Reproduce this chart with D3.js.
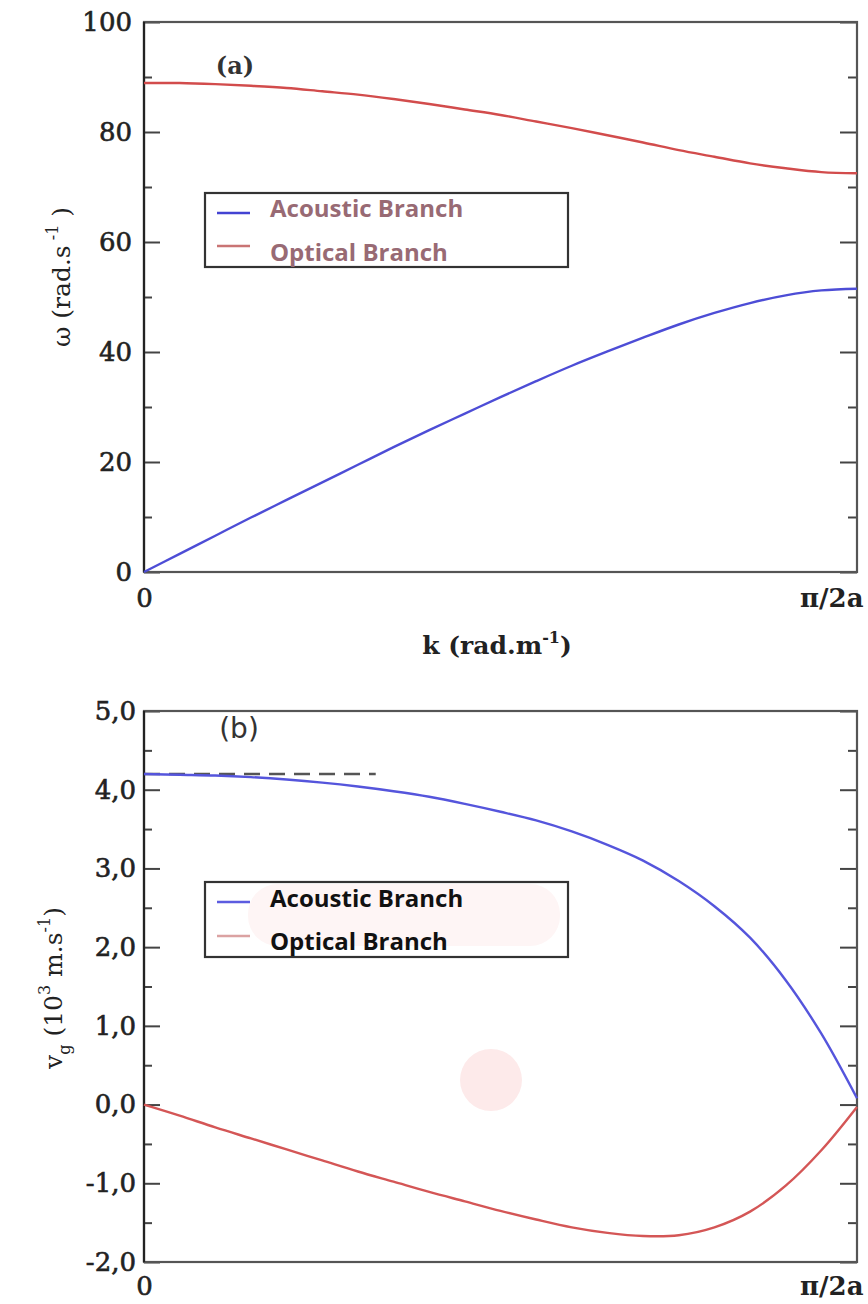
<!DOCTYPE html>
<html>
<head>
<meta charset="utf-8">
<script src="https://cdn.jsdelivr.net/npm/d3@7"></script>
<style>
  body { margin: 0; background: #fff; }
  svg { display: block; }
</style>
</head>
<body>
<svg id="chart" width="868" height="1304"></svg>
<script>
// Wavevector k, as a fraction of the zone edge k = π/2a
const kFrac = [0, 0.05, 0.10, 0.15, 0.20, 0.25, 0.30, 0.35, 0.40, 0.45, 0.50,
               0.55, 0.60, 0.65, 0.70, 0.75, 0.80, 0.85, 0.90, 0.95, 1.00];

// (a) dispersion relation ω(k), rad.s^-1
const omegaAcoustic = [0, 3.3, 6.6, 9.9, 13.1, 16.3, 19.5, 22.7, 25.8, 28.8, 31.8,
                       34.7, 37.5, 40.1, 42.6, 45.0, 47.1, 48.9, 50.3, 51.2, 51.5];
const omegaOptical  = [88.9, 88.9, 88.7, 88.4, 88.0, 87.4, 86.8, 86.0, 85.1, 84.1, 83.1,
                       81.9, 80.7, 79.4, 78.1, 76.7, 75.5, 74.3, 73.4, 72.7, 72.5];

// (b) group velocity v_g(k), 10^3 m.s^-1
const vgAcoustic = [4.20, 4.19, 4.18, 4.16, 4.13, 4.09, 4.04, 3.98, 3.91, 3.82, 3.72,
                    3.61, 3.47, 3.30, 3.10, 2.84, 2.52, 2.12, 1.58, 0.90, 0.08];
const vgOptical  = [0, -0.14, -0.29, -0.43, -0.57, -0.71, -0.85, -0.98, -1.11, -1.23, -1.35,
                    -1.46, -1.56, -1.63, -1.67, -1.66, -1.56, -1.36, -1.03, -0.58, -0.03];

// long-wavelength sound velocity marker (dashed line)
const vgSound = 4.2;
const vgSoundSpan = [0, 0.325];

// tick values and labels
const kTickValues = [0, 1];
const kTickLabels = ["0", "π/2a"];
const omegaMajor = [0, 20, 40, 60, 80, 100];
const omegaMinor = [10, 30, 50, 70, 90];
const vgMajor = [-2, -1, 0, 1, 2, 3, 4, 5];
const vgMinor = [-1.5, -0.5, 0.5, 1.5, 2.5, 3.5, 4.5];
const branchNames = ["Acoustic Branch", "Optical Branch"];

const svg = d3.select("#chart");
const serif = "'DejaVu Serif', serif";
const sans = "'Open Sans', 'DejaVu Sans', sans-serif";

const commaLocale = d3.formatLocale({decimal: ",", thousands: ".", grouping: [3], currency: ["", ""], minus: "-"});
const fmtComma = commaLocale.format(".1f");

function drawPanel(p) {
  const x = d3.scaleLinear().domain([0, 1]).range([p.left, p.right]);
  const y = d3.scaleLinear().domain(p.yDomain).range([p.bottom, p.top]);
  const g = svg.append("g");

  if (p.decor) p.decor(g);

  const styleTicks = sel => {
    sel.select(".domain").remove();
    sel.selectAll(".tick line").attr("stroke", "#444").attr("stroke-width", 2);
    sel.selectAll(".tick text")
      .attr("font-family", serif).attr("font-size", 26).attr("fill", "#222")
      .attr("stroke", "#222").attr("stroke-width", 0.6);
  };

  // minor ticks, both sides, pointing inward
  g.append("g").attr("transform", `translate(${p.left},0)`)
    .call(d3.axisLeft(y).tickValues(p.minor).tickSize(-8).tickFormat(""))
    .call(styleTicks);
  g.append("g").attr("transform", `translate(${p.right},0)`)
    .call(d3.axisRight(y).tickValues(p.minor).tickSize(-9).tickFormat(""))
    .call(styleTicks);

  // major ticks with labels on the left
  g.append("g").attr("transform", `translate(${p.left},0)`)
    .call(d3.axisLeft(y).tickValues(p.major).tickSize(-16).tickPadding(p.pad).tickFormat(p.fmt))
    .call(styleTicks);
  g.append("g").attr("transform", `translate(${p.right},0)`)
    .call(d3.axisRight(y).tickValues(p.major).tickSize(-17).tickFormat(""))
    .call(styleTicks);

  // k axis labels
  g.append("g").attr("transform", `translate(0,${p.bottom})`)
    .call(d3.axisBottom(x).tickValues(kTickValues).tickSize(0).tickPadding(p.kPad)
      .tickFormat((d, i) => kTickLabels[i]))
    .call(styleTicks)
    .call(sel => sel.selectAll(".tick text")
      .filter(d => d === 1)
      .attr("text-anchor", "end").attr("x", 6).attr("font-weight", "bold").attr("stroke-width", 0));

  // frame
  g.append("rect")
    .attr("x", p.left).attr("y", p.top)
    .attr("width", p.right - p.left).attr("height", p.bottom - p.top)
    .attr("fill", "none").attr("stroke", "#555").attr("stroke-width", 2.2);
  g.append("line")
    .attr("x1", p.left).attr("x2", p.left).attr("y1", p.top).attr("y2", p.bottom)
    .attr("stroke", "#222").attr("stroke-width", 2.2);

  if (p.extra) p.extra(g, x, y);

  const line = d3.line().x((d, i) => x(kFrac[i])).y(d => y(d)).curve(d3.curveCatmullRom.alpha(0.5));
  p.series.forEach(s => {
    g.append("path").datum(s.values)
      .attr("d", line)
      .attr("fill", "none")
      .attr("stroke", s.color)
      .attr("stroke-width", 2.4)
      .attr("stroke-linejoin", "round");
  });

  // panel tag
  g.append("text")
    .attr("x", p.tag.x).attr("y", p.tag.y)
    .attr("text-anchor", "middle")
    .attr("font-family", p.tag.font).attr("font-weight", p.tag.weight)
    .attr("font-size", p.tag.size).attr("fill", "#333")
    .text(p.tag.text);

  // legend
  const L = p.legend;
  g.append("rect")
    .attr("x", L.x0).attr("y", L.y0).attr("width", L.x1 - L.x0).attr("height", L.y1 - L.y0)
    .attr("fill", "none").attr("stroke", "#333").attr("stroke-width", 2.2);
  L.rows.forEach((r, i) => {
    g.append("line")
      .attr("x1", L.x0 + 12).attr("x2", L.x0 + 45)
      .attr("y1", r.lineY).attr("y2", r.lineY)
      .attr("stroke", r.color).attr("stroke-width", 2.6);
    g.append("text")
      .attr("x", L.x0 + 65).attr("y", r.textY)
      .attr("font-family", sans).attr("font-weight", "bold").attr("font-size", 24)
      .attr("fill", L.textColor)
      .text(branchNames[i]);
  });
}

// (a) dispersion relation
drawPanel({
  left: 144, right: 857, top: 22, bottom: 572,
  yDomain: [0, 100], major: omegaMajor, minor: omegaMinor,
  fmt: d3.format("d"), pad: 12, kPad: 17,
  series: [
    {values: omegaOptical, color: "#d24c4c"},
    {values: omegaAcoustic, color: "#4d4dd6"}
  ],
  tag: {text: "(a)", x: 235, y: 74, font: serif, weight: "bold", size: 24},
  legend: {
    x0: 205, x1: 568, y0: 193, y1: 267, textColor: "#986a74",
    rows: [
      {color: "#4343d2", lineY: 213, textY: 217},
      {color: "#c97474", lineY: 246, textY: 261}
    ]
  }
});

// (b) group velocity
drawPanel({
  left: 144, right: 857, top: 711, bottom: 1262,
  yDomain: [-2, 5], major: vgMajor, minor: vgMinor,
  fmt: fmtComma, pad: 8, kPad: 15,
  decor: g => {
    g.append("rect").attr("x", 248).attr("y", 884).attr("width", 312).attr("height", 62)
      .attr("rx", 30).attr("fill", "#fef5f5");
    g.append("circle").attr("cx", 491).attr("cy", 1080).attr("r", 31).attr("fill", "#fdeaea");
  },
  extra: (g, x, y) => {
    g.append("line")
      .attr("x1", x(vgSoundSpan[0])).attr("x2", x(vgSoundSpan[1]))
      .attr("y1", y(vgSound)).attr("y2", y(vgSound))
      .attr("stroke", "#555").attr("stroke-width", 2.4)
      .attr("stroke-dasharray", "16 9");
  },
  series: [
    {values: vgAcoustic, color: "#5555dc"},
    {values: vgOptical, color: "#d45656"}
  ],
  tag: {text: "(b)", x: 239, y: 738, font: "'DejaVu Sans', sans-serif", weight: "normal", size: 28},
  legend: {
    x0: 205, x1: 568, y0: 882, y1: 957, textColor: "#111",
    rows: [
      {color: "#5c5ce0", lineY: 902, textY: 907},
      {color: "#dba2a2", lineY: 936, textY: 950}
    ]
  }
});

// axis titles
svg.append("text")
  .attr("x", 497).attr("y", 654)
  .attr("text-anchor", "middle")
  .attr("font-family", serif).attr("font-weight", "bold").attr("font-size", 25).attr("fill", "#222")
  .call(t => {
    t.append("tspan").text("k (rad.m");
    t.append("tspan").attr("dy", -11).attr("font-size", 16).text("-1");
    t.append("tspan").attr("dy", 11).text(")");
  });

svg.append("text")
  .attr("transform", "translate(70,277) rotate(-90)")
  .attr("text-anchor", "middle")
  .attr("font-family", serif).attr("font-size", 25).attr("fill", "#222")
  .call(t => {
    t.append("tspan").text("ω (rad.s");
    t.append("tspan").attr("dy", -12).attr("font-size", 16).text(" -1");
    t.append("tspan").attr("dy", 12).text(" )");
  });

svg.append("text")
  .attr("transform", "translate(62,988) rotate(-90)")
  .attr("text-anchor", "middle")
  .attr("font-family", serif).attr("font-size", 25).attr("fill", "#222")
  .call(t => {
    t.append("tspan").text("v");
    t.append("tspan").attr("dy", 8).attr("font-size", 16).text("g");
    t.append("tspan").attr("dy", -8).text(" (10");
    t.append("tspan").attr("dy", -12).attr("font-size", 16).text("3");
    t.append("tspan").attr("dy", 12).text(" m.s");
    t.append("tspan").attr("dy", -12).attr("font-size", 16).text("-1");
    t.append("tspan").attr("dy", 12).text(")");
  });
</script>
</body>
</html>
